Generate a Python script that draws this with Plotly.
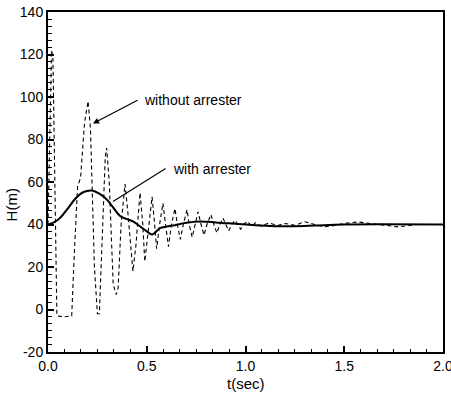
import plotly.graph_objects as go

# Without arrester (dashed)
t_without = [0.000, 0.008, 0.018, 0.025, 0.035, 0.045, 0.080, 0.120, 0.135, 0.150, 0.165, 0.185,
             0.203, 0.215, 0.235, 0.250, 0.260, 0.275, 0.290, 0.297, 0.310, 0.330, 0.345, 0.355,
             0.370, 0.390, 0.405, 0.430, 0.445, 0.466, 0.480, 0.490, 0.510, 0.527, 0.540, 0.550,
             0.565, 0.582, 0.595, 0.610, 0.625, 0.643, 0.655, 0.670, 0.685, 0.704, 0.715, 0.730,
             0.745, 0.760, 0.775, 0.790, 0.805, 0.825, 0.840, 0.855, 0.870, 0.886, 0.900, 0.915,
             0.930, 0.947, 0.960, 0.975, 0.990, 1.010, 1.030, 1.050, 1.080, 1.120, 1.160, 1.200,
             1.250, 1.300, 1.350, 1.400, 1.450, 1.500, 1.570, 1.630, 1.700, 1.770, 1.830, 1.870, 2.000]
h_without = [40, 80, 122, 118, 60, -3, -3.5, -3, 30, 58, 62, 88,
             98, 85, 20, -2, -2, 40, 72, 76, 60, 12, 7, 10,
             40, 59, 45, 18, 30, 55, 40, 22.6, 40, 53, 40, 28.6,
             40, 50, 40, 29.6, 40, 47.5, 40, 33, 40, 47, 40, 34,
             40, 46, 40, 35, 40, 44.7, 40, 36, 40, 43, 40, 37,
             40, 42, 40, 37.8, 40, 41.5, 39, 40.8, 39.2, 40.8, 39.5, 40.5,
             39.6, 41.3, 40, 38.9, 39.5, 40.5, 41.2, 40.5, 39.5, 38.9, 39.5, 40, 40]

# With arrester (solid)
t_with = [0.00, 0.03, 0.06, 0.10, 0.137, 0.18, 0.223, 0.26, 0.30, 0.33, 0.365, 0.40, 0.43,
          0.46, 0.50, 0.527, 0.567, 0.60, 0.633, 0.70, 0.77, 0.85, 0.95, 1.05, 1.15, 1.25,
          1.35, 1.50, 2.00]
h_with = [40, 41, 43, 47.5, 52, 55.3, 56, 54.5, 51.5, 48, 44, 42.5, 41.5,
          39.5, 36.8, 35.3, 38.3, 39.0, 39.5, 40.8, 41.4, 41.0, 40.3, 39.6, 39.2, 39.2,
          39.5, 40, 40]

x_ticks = [0.0, 0.5, 1.0, 1.5, 2.0]
y_ticks = [-20, 0, 20, 40, 60, 80, 100, 120, 140]

FONT = "Liberation Sans, Arial, sans-serif"

fig = go.Figure()
fig.add_trace(go.Scatter(x=t_without, y=h_without, mode="lines",
                         line=dict(color="black", width=1.1, dash="4px,3px"),
                         showlegend=False, cliponaxis=False))
fig.add_trace(go.Scatter(x=t_with, y=h_with, mode="lines", line_shape="spline",
                         line=dict(color="black", width=2),
                         showlegend=False))

axis_common = dict(showgrid=False, zeroline=False, showline=True, linecolor="black",
                   linewidth=2, mirror=True, ticks="inside", tickcolor="black",
                   tickwidth=1.5, ticklen=6, automargin=False, ticklabeloverflow="allow",
                   tickfont=dict(family=FONT, size=14, color="black"))

fig.update_xaxes(range=[0, 2], tickvals=x_ticks, ticktext=[f"{v:.1f}" for v in x_ticks],
                 minor=dict(dtick=0.5 / 6, ticks="inside", ticklen=3.5, tickcolor="black",
                            tickwidth=1.2, tick0=0),
                 **axis_common)
fig.update_yaxes(range=[-20, 140], tickvals=y_ticks, ticktext=[str(v) for v in y_ticks],
                 minor=dict(dtick=20 / 6, ticks="inside", ticklen=3.5, tickcolor="black",
                            tickwidth=1.2, tick0=0),
                 **axis_common)

fig.add_annotation(x=0, xref="paper", y=49, yref="y", xshift=-37, text="H(m)",
                   textangle=-90, showarrow=False, xanchor="center", yanchor="middle",
                   font=dict(family=FONT, size=15, color="black"))
fig.add_annotation(x=1.0, xref="x", y=0, yref="paper", yshift=-31, text="t(sec)",
                   showarrow=False, xanchor="center", yanchor="middle",
                   font=dict(family=FONT, size=15, color="black"))

fig.add_annotation(x=0.734, y=98.8, text="without arrester", showarrow=False,
                   xanchor="center", yanchor="middle",
                   font=dict(family=FONT, size=14, color="black"))
fig.add_annotation(x=0.228, y=87.5, ax=0.461, ay=98.8, axref="x", ayref="y", text="",
                   showarrow=True, arrowhead=2, arrowsize=1, arrowwidth=1.2, arrowcolor="black")
fig.add_annotation(x=0.828, y=65.9, text="with arrester", showarrow=False,
                   xanchor="center", yanchor="middle",
                   font=dict(family=FONT, size=14, color="black"))
fig.add_annotation(x=0.329, y=50.8, ax=0.603, ay=66.8, axref="x", ayref="y", text="",
                   showarrow=True, arrowhead=0, arrowwidth=1.2, arrowcolor="black")

fig.update_layout(width=451, height=393, margin=dict(l=48, r=8, t=12, b=41),
                  paper_bgcolor="white", plot_bgcolor="white",
                  font=dict(family=FONT, color="black"))

fig.write_html("out.html")
